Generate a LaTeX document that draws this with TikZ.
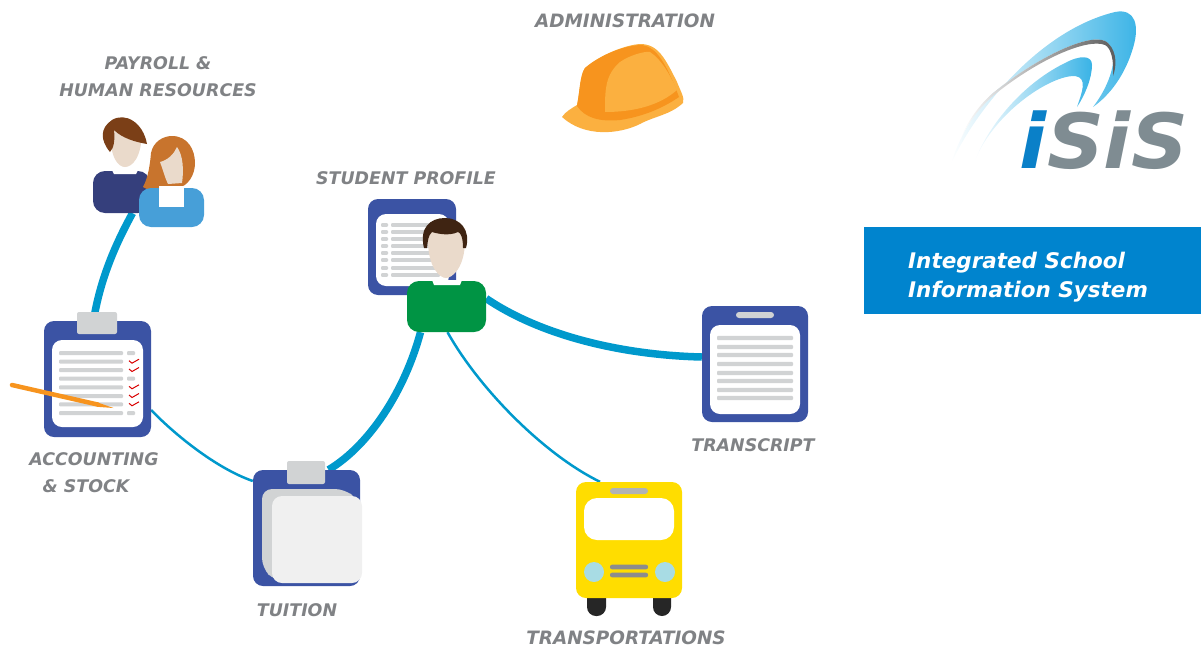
\documentclass[tikz,border=0pt]{standalone}
\usepackage{fontspec}
\setmainfont{DejaVu Sans}
\usetikzlibrary{backgrounds}
\definecolor{boardblue}{HTML}{3B53A4}
\definecolor{linkblue}{HTML}{0099CC}
\definecolor{rowgrey}{HTML}{D1D3D4}
\definecolor{labelgrey}{HTML}{808285}
\definecolor{skin}{HTML}{EADACB}
\definecolor{hatdark}{HTML}{F7941E}
\definecolor{hatlight}{HTML}{FBB040}
\definecolor{logoblue}{HTML}{39B3E6}
\definecolor{logogrey}{HTML}{7F8C92}
\definecolor{logoi}{HTML}{0A80C8}
\definecolor{bannerblue}{HTML}{0084CE}
\definecolor{busyellow}{HTML}{FFDD00}
\definecolor{buslamp}{HTML}{A8DCE4}
\definecolor{manblue}{HTML}{353F7C}
\definecolor{womanblue}{HTML}{479FD8}
\definecolor{manhair}{HTML}{7B3F17}
\definecolor{womanhair}{HTML}{C8742D}
\definecolor{studhair}{HTML}{3F2412}
\definecolor{studgreen}{HTML}{009444}
\tikzset{
board/.style={fill=boardblue, rounded corners=10pt, inner sep=0pt},
sheet/.style={fill=white, rounded corners=10pt},
clip/.style={fill=rowgrey, rounded corners=2pt},
row/.style={fill=rowgrey, rounded corners=1pt},
tag/.style={font=\bfseries\itshape\fontsize{17.4}{27}\selectfont, text=labelgrey, align=center, inner sep=0pt},
tagwide/.style={tag, font=\bfseries\itshape\fontsize{18.4}{27}\selectfont},
biglink/.style={draw=linkblue, line width=7.5pt},
smalllink/.style={draw=linkblue, line width=2.5pt},
swoosh/.style={left color=white, middle color=logoblue!65, right color=logoblue},
tick/.pic={
  \draw[red!85!black, line width=1pt] (-5,-1) -- (-2,1.5) -- (5,-2.5);
  }
}
\begin{document}
\begin{tikzpicture}[x=1pt, y=-1pt]
\useasboundingbox (0,0) rectangle (1201,648);
% accounting
\node[board, minimum width=107pt, minimum height=116pt] (accboard) at (97.5,379) {};
\fill[clip] (77,312) rectangle (117,334);
\fill[sheet] (52,340) rectangle (143,427);
\foreach \y in {353,361.7,370,378.7,387.3,396,404.3,413} {
  \fill[row] (59,\y-2) rectangle (123,\y+2);
}
\foreach \y in {353,378.7,413} {
  \fill[row] (127,\y-2) rectangle (135,\y+2);
}
\foreach \y in {361.7,370,387.3,396,404.3} {
  \pic at (134,\y) {tick};
}
\draw[hatdark, line width=4.5pt, line cap=round] (12,385) -- (98,404.6);
\fill[hatdark] (97.5,402.4) -- (113.5,408) -- (97,406.8) -- cycle;
\node[tag] (acctag) at (94,473) {ACCOUNTING\\\&~STOCK\hspace*{16pt}};
% tuition
\node[board, minimum width=107pt, minimum height=116pt] (tuitboard) at (306.5,528) {};
\fill[rowgrey, rounded corners=10pt] (262,489) -- (345,489) -- (358,500) -- (358,572) -- (350,581) -- (275,581) -- (262,568) -- cycle;
\fill[black!6, rounded corners=10pt] (272,496) rectangle (362,583);
\fill[clip] (287,461) rectangle (325,484);
\node[tag] (tuittag) at (297,610) {TUITION};
% student profile
\node[board, minimum width=88pt, minimum height=96pt] (studboard) at (412,247) {};
\fill[sheet] (376,214) rectangle (449,286);
\foreach \y in {225,232,239,246,253,260,268,275} {
  \fill[row] (381,\y-1.8) rectangle (388,\y+1.8);
  \fill[row] (391,\y-1.8) rectangle (440,\y+1.8);
}
\fill[skin] (428,240) .. controls (428,268) and (440,278) .. (446,278) .. controls (452,278) and (465,268) .. (465,240) -- (465,228) -- (428,228) -- cycle;
\fill[studhair] (424,248) .. controls (419,228) and (430,218) .. (445,218) .. controls (460,218) and (471,230) .. (466,248) -- (463,248) .. controls (463,238) and (461,233) .. (458,232) .. controls (450,236) and (438,234) .. (432,232) .. controls (428,236) and (428,240) .. (427,248) -- cycle;
\node[fill=studgreen, rounded corners=12pt, inner sep=0pt, minimum width=79pt, minimum height=51pt] (studbody) at (446.5,306.5) {};
\fill[white] (432,280) -- (434,285) -- (460,285) -- (462,280) -- cycle;
\node[tag] (studtag) at (406,178) {STUDENT PROFILE};
% payroll
\fill[skin] (110,130) .. controls (110,158) and (118,167) .. (125,167) .. controls (132,167) and (142,158) .. (142,130) -- cycle;
\fill[manhair] (110,152) .. controls (100,140) and (100,128) .. (112,120) .. controls (125,112) and (143,122) .. (147,144) .. controls (135,142) and (122,138) .. (114,130) .. controls (115,140) and (114,148) .. (110,152) -- cycle;
\node[fill=manblue, rounded corners=12pt, inner sep=0pt, minimum width=57pt, minimum height=42pt] (manbody) at (121.5,192) {};
\fill[white] (112,170) -- (114,174) -- (136,174) -- (138,170) -- cycle;
\fill[womanhair] (143,187) .. controls (148,178) and (150,165) .. (151,153) .. controls (153,142) and (163,136) .. (172,136) .. controls (188,136) and (195,150) .. (195,163) .. controls (195,175) and (188,186) .. (178,188) -- (153,192) -- cycle;
\fill[skin] (160,162) .. controls (168,160) and (174,154) .. (177,147) .. controls (183,155) and (184,170) .. (182,183) -- (168,184) .. controls (165,178) and (163,170) .. (160,162) -- cycle;
\node[fill=womanblue, rounded corners=12pt, inner sep=0pt, minimum width=65pt, minimum height=39pt] (womanbody) at (171.5,207.5) {};
\fill[white] (159,186) rectangle (184,207);
\node[tag] (paytag) at (158,76.5) {PAYROLL \&\\HUMAN RESOURCES};
% administration
\fill[hatlight] (562,117) .. controls (565,112) and (572,108) .. (577,105) .. controls (580,90) and (580,75) .. (585,68) .. controls (600,55) and (625,45) .. (640,44) .. controls (658,44) and (665,58) .. (677,82) .. controls (680,90) and (685,98) .. (683,103) .. controls (670,115) and (655,116) .. (640,124) .. controls (620,134) and (585,138) .. (562,117) -- cycle;
\fill[hatdark] (577,106) .. controls (580,90) and (580,75) .. (585,68) .. controls (600,55) and (625,45) .. (642,45) .. controls (657,47) and (667,65) .. (679,97) .. controls (660,110) and (640,117) .. (620,120) .. controls (600,122) and (585,118) .. (577,106) -- cycle;
\fill[hatlight] (605,112) .. controls (605,90) and (605,75) .. (620,62) .. controls (630,55) and (645,51) .. (650,52) .. controls (662,60) and (670,75) .. (677,90) .. controls (660,105) and (635,112) .. (605,112) -- cycle;
\node[tagwide] (admintag) at (625,21) {ADMINISTRATION};
% transcript
\node[board, minimum width=106pt, minimum height=116pt] (transboard) at (755,364) {};
\fill[clip, rounded corners=3pt] (736,312) rectangle (774,318);
\fill[sheet] (710,325) rectangle (800,414);
\foreach \y in {338,347,355,364,373,381,390,398} {
  \fill[row] (717,\y-2.2) rectangle (793,\y+2.2);
}
\node[tag] (transtag) at (753,445) {TRANSCRIPT};
% transportations
\fill[black!85, rounded corners=9pt] (587,585) rectangle (606,616);
\fill[black!85, rounded corners=9pt] (653,585) rectangle (671,616);
\node[fill=busyellow, rounded corners=10pt, inner sep=0pt, minimum width=106pt, minimum height=116pt] (busbody) at (629,540) {};
\fill[white, rounded corners=13pt] (584,498) rectangle (674,540);
\fill[rowgrey!85!black, rounded corners=3pt] (610,488) rectangle (648,494);
\foreach \x in {594,665} {
  \fill[buslamp] (\x,572) circle [radius=10];
}
\foreach \y in {567,575} {
  \fill[black!45, rounded corners=2pt] (610,\y-2.3) rectangle (648,\y+2.3);
}
\node[tagwide] (bustag) at (626,638) {TRANSPORTATIONS};
% logo
\shade[swoosh] (950,166) .. controls (975,110) and (1040,30) .. (1115,12) .. controls (1135,8) and (1140,25) .. (1133,48) .. controls (1125,75) and (1110,95) .. (1093,107) .. controls (1110,85) and (1120,55) .. (1108,43) .. controls (1095,30) and (1040,55) .. (993,93) .. controls (975,110) and (960,135) .. (950,166) -- cycle;
\shade[left color=white, right color=black!65] (960,140) .. controls (968,120) and (980,104) .. (993,93) .. controls (1040,55) and (1095,30) .. (1108,43) .. controls (1118,53) and (1116,68) .. (1113,76) .. controls (1114,60) and (1111,48) .. (1105,45) .. controls (1088,38) and (1040,58) .. (994,95) .. controls (980,107) and (968,122) .. (960,140) -- cycle;
\shade[swoosh] (973,166) .. controls (985,130) and (1020,85) .. (1065,63) .. controls (1080,55) and (1092,55) .. (1092,65) .. controls (1092,78) and (1085,95) .. (1077,107) .. controls (1082,92) and (1088,78) .. (1075,76) .. controls (1050,75) and (990,115) .. (973,166) -- cycle;
\node[inner sep=0pt, anchor=base] (logotext) at (1104,168) {\bfseries\itshape\fontsize{76}{76}\selectfont\scalebox{1.04}[1]{\textcolor{logoi}{i}\textcolor{logogrey}{SiS}}};
% banner
\node[fill=bannerblue, inner sep=0pt, minimum width=337pt, minimum height=87pt] (banner) at (1032.5,270.5) {};
\node[font=\bfseries\itshape\fontsize{21.5}{29}\selectfont, text=white, align=left, inner sep=0pt, anchor=west] (bannertext) at (908,277.5) {Integrated School\\Information System};
% links
\begin{pgfonlayer}{background}
\draw[biglink] ([xshift=11pt]manbody.south) .. controls (115,245) and (100,280) .. ([xshift=-4pt]accboard.north);
\draw[smalllink] ([yshift=-31pt]accboard.east) .. controls (172,432) and (215,468) .. ([yshift=47pt]tuitboard.west);
\draw[biglink] ([xshift=22pt]tuitboard.north) .. controls (370,445) and (405,390) .. ([xshift=-26pt]studbody.south);
\draw[biglink] ([yshift=8pt]studbody.east) .. controls (540,335) and (620,355) .. ([yshift=7pt]transboard.west);
\draw[smalllink] ([xshift=1pt]studbody.south) .. controls (480,390) and (545,455) .. ([xshift=-29pt]busbody.north);
\end{pgfonlayer}
\end{tikzpicture}
\end{document}
